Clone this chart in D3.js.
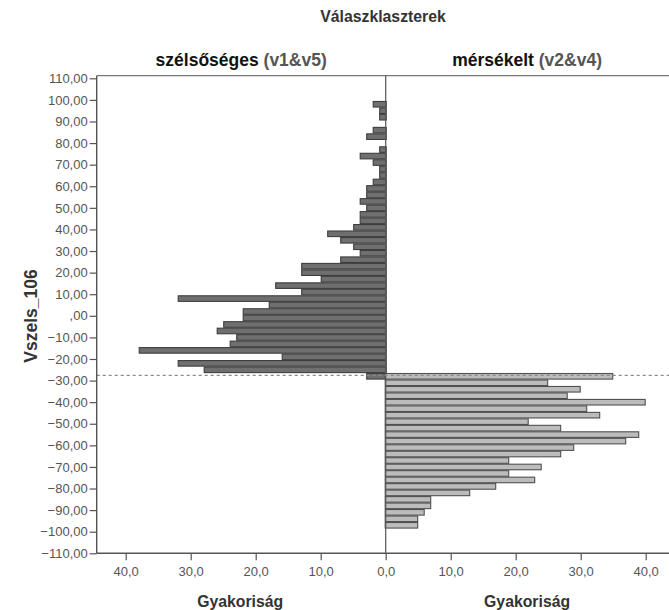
<!DOCTYPE html>
<html><head><meta charset="utf-8">
<script src="https://cdn.jsdelivr.net/npm/d3@7/dist/d3.min.js"></script>
<style>
body{margin:0;background:#fff;}
svg{display:block;font-family:"Liberation Sans",Arial,sans-serif;}
</style></head><body>
<svg id="c" width="669" height="610"></svg>
<script>
// ---- data ----
const leftCenters = [98,95,92,89,86,83,80,77,74,71,68,65,62,59,56,53,50,47,44,41,38,35,32,29,26,23,20,17,14,11,8,5,2,-1,-4,-7,-10,-13,-16,-19,-22,-25,-28];
const leftCounts  = [2,1,1,0,2,3,0,1,4,2,1,1,2,3,3,4,3,4,4,5,9,7,5,4,7,13,13,10,17,13,32,18,22,22,25,26,23,24,38,16,32,28,3];
const rightCenters = [-28,-31,-34,-37,-40,-43,-46,-49,-52,-55,-58,-61,-64,-67,-70,-73,-76,-79,-82,-85,-88,-91,-94,-97];
const rightCounts  = [35,25,30,28,40,31,33,22,27,39,37,29,27,19,24,19,23,17,13,7,7,6,5,5];
const binWidth = 3;
const refLine = -27.6;
const yTicks = [110,100,90,80,70,60,50,40,30,20,10,0,-10,-20,-30,-40,-50,-60,-70,-80,-90,-100,-110];
const xTicksLeft = [40,30,20,10,0];
const xTicksRight = [10,20,30,40];
const chartTitle = "Válaszklaszterek";
const panelNames = ["szélsőséges", "mérsékelt"];
const panelCodes = ["(v1&v5)", "(v2&v4)"];
const yTitle = "Vszels_106";
const xTitle = "Gyakoriság";

// ---- layout ----
const svg = d3.select("#c");
const plotLeft = 96.7, plotRight = 668.5, mid = 385.7, plotTop = 75.7, plotBottom = 553.3;
const y = d3.scaleLinear().domain([-110,110]).range([553.3,78.3]);
const xL = d3.scaleLinear().domain([0,40]).range([mid, mid-260]);
const xR = d3.scaleLinear().domain([0,40]).range([mid, mid+260]);
const fmtY = v => v===0 ? ",00" : d3.format(".2f")(v).replace(".", ",");
const fmtX = v => d3.format(".1f")(v).replace(".", ",");

// title
svg.append("text").attr("x", 383).attr("y", 22).attr("text-anchor","middle")
  .attr("font-size", 15.8).attr("font-weight","bold").attr("fill","#333").text(chartTitle);

// panel titles
[[ (plotLeft+mid)/2, 0 ], [ (mid+plotRight)/2, 1 ]].forEach(([cx,i])=>{
  const t = svg.append("text").attr("x", cx).attr("y", 66).attr("text-anchor","middle")
    .attr("font-size", 17.5).attr("font-weight","bold");
  t.append("tspan").attr("fill","#111").text(panelNames[i] + " ");
  t.append("tspan").attr("fill","#555").text(panelCodes[i]);
});

// bars
const bandTop = c => y(c + binWidth/2);
const bandH = c => y(c - binWidth/2) - y(c + binWidth/2) - 0.9;
svg.append("g").selectAll("rect").data(leftCenters.map((c,i)=>({c, v:leftCounts[i]})).filter(d=>d.v>0))
  .join("rect")
  .attr("x", d=>xL(d.v)+0.5).attr("y", d=>bandTop(d.c)+0.5)
  .attr("width", d=>xL(0)-xL(d.v)).attr("height", d=>bandH(d.c))
  .attr("fill","#6f6f6f").attr("stroke","#3e3e3e").attr("stroke-width",1.1);
svg.append("g").selectAll("rect").data(rightCenters.map((c,i)=>({c, v:rightCounts[i]})).filter(d=>d.v>0))
  .join("rect")
  .attr("x", xR(0)-0.5).attr("y", d=>bandTop(d.c)+0.5)
  .attr("width", d=>xR(d.v)-xR(0)).attr("height", d=>bandH(d.c))
  .attr("fill","#bcbcbc").attr("stroke","#505050").attr("stroke-width",1.1);

// frame lines
const fr = svg.append("g").attr("stroke","#555").attr("stroke-width",1.2).attr("fill","none");
fr.append("line").attr("x1",plotLeft).attr("x2",669).attr("y1",plotTop).attr("y2",plotTop).attr("stroke","#777");
fr.append("line").attr("x1",mid).attr("x2",mid).attr("y1",plotTop).attr("y2",plotBottom);

// reference line
svg.append("line").attr("x1",plotLeft).attr("x2",669).attr("y1",y(refLine)).attr("y2",y(refLine))
  .attr("stroke","#8a8a8a").attr("stroke-width",1.2).attr("stroke-dasharray","3,3");

// y axis
const gy = svg.append("g").attr("transform",`translate(${plotLeft},0)`)
  .call(d3.axisLeft(y).tickValues(yTicks).tickFormat(fmtY).tickSize(7).tickPadding(2));
gy.select(".domain").attr("stroke","#555").attr("stroke-width",1.4).attr("d",`M0,${plotTop}V${plotBottom}`);
gy.selectAll(".tick line").attr("stroke","#555").attr("stroke-width",1.2);
gy.selectAll(".tick text").attr("font-size",13).attr("fill","#555").attr("font-family","Liberation Sans, Arial, sans-serif");

// x axes
const gxl = svg.append("g").attr("transform",`translate(0,${plotBottom})`)
  .call(d3.axisBottom(xL).tickValues(xTicksLeft).tickFormat(fmtX).tickSize(7).tickPadding(6));
const gxr = svg.append("g").attr("transform",`translate(0,${plotBottom})`)
  .call(d3.axisBottom(xR).tickValues(xTicksRight).tickFormat(fmtX).tickSize(7).tickPadding(6));
[gxl,gxr].forEach(g=>{
  g.select(".domain").remove();
  g.selectAll(".tick line").attr("stroke","#555").attr("stroke-width",1.2);
  g.selectAll(".tick text").attr("font-size",13).attr("fill","#555").attr("font-family","Liberation Sans, Arial, sans-serif");
});
svg.append("line").attr("x1",plotLeft).attr("x2",669).attr("y1",plotBottom).attr("y2",plotBottom)
  .attr("stroke","#555").attr("stroke-width",1.4);

// axis titles
svg.append("text").attr("transform","translate(37,316) rotate(-90)").attr("text-anchor","middle")
  .attr("font-size",17.5).attr("font-weight","bold").attr("fill","#333").text(yTitle);
[(plotLeft+mid)/2 - 1, (mid+plotRight)/2].forEach(cx=>{
  svg.append("text").attr("x",cx).attr("y",607).attr("text-anchor","middle")
    .attr("font-size",15.8).attr("font-weight","bold").attr("fill","#333").text(xTitle);
});
</script>
</body></html>
